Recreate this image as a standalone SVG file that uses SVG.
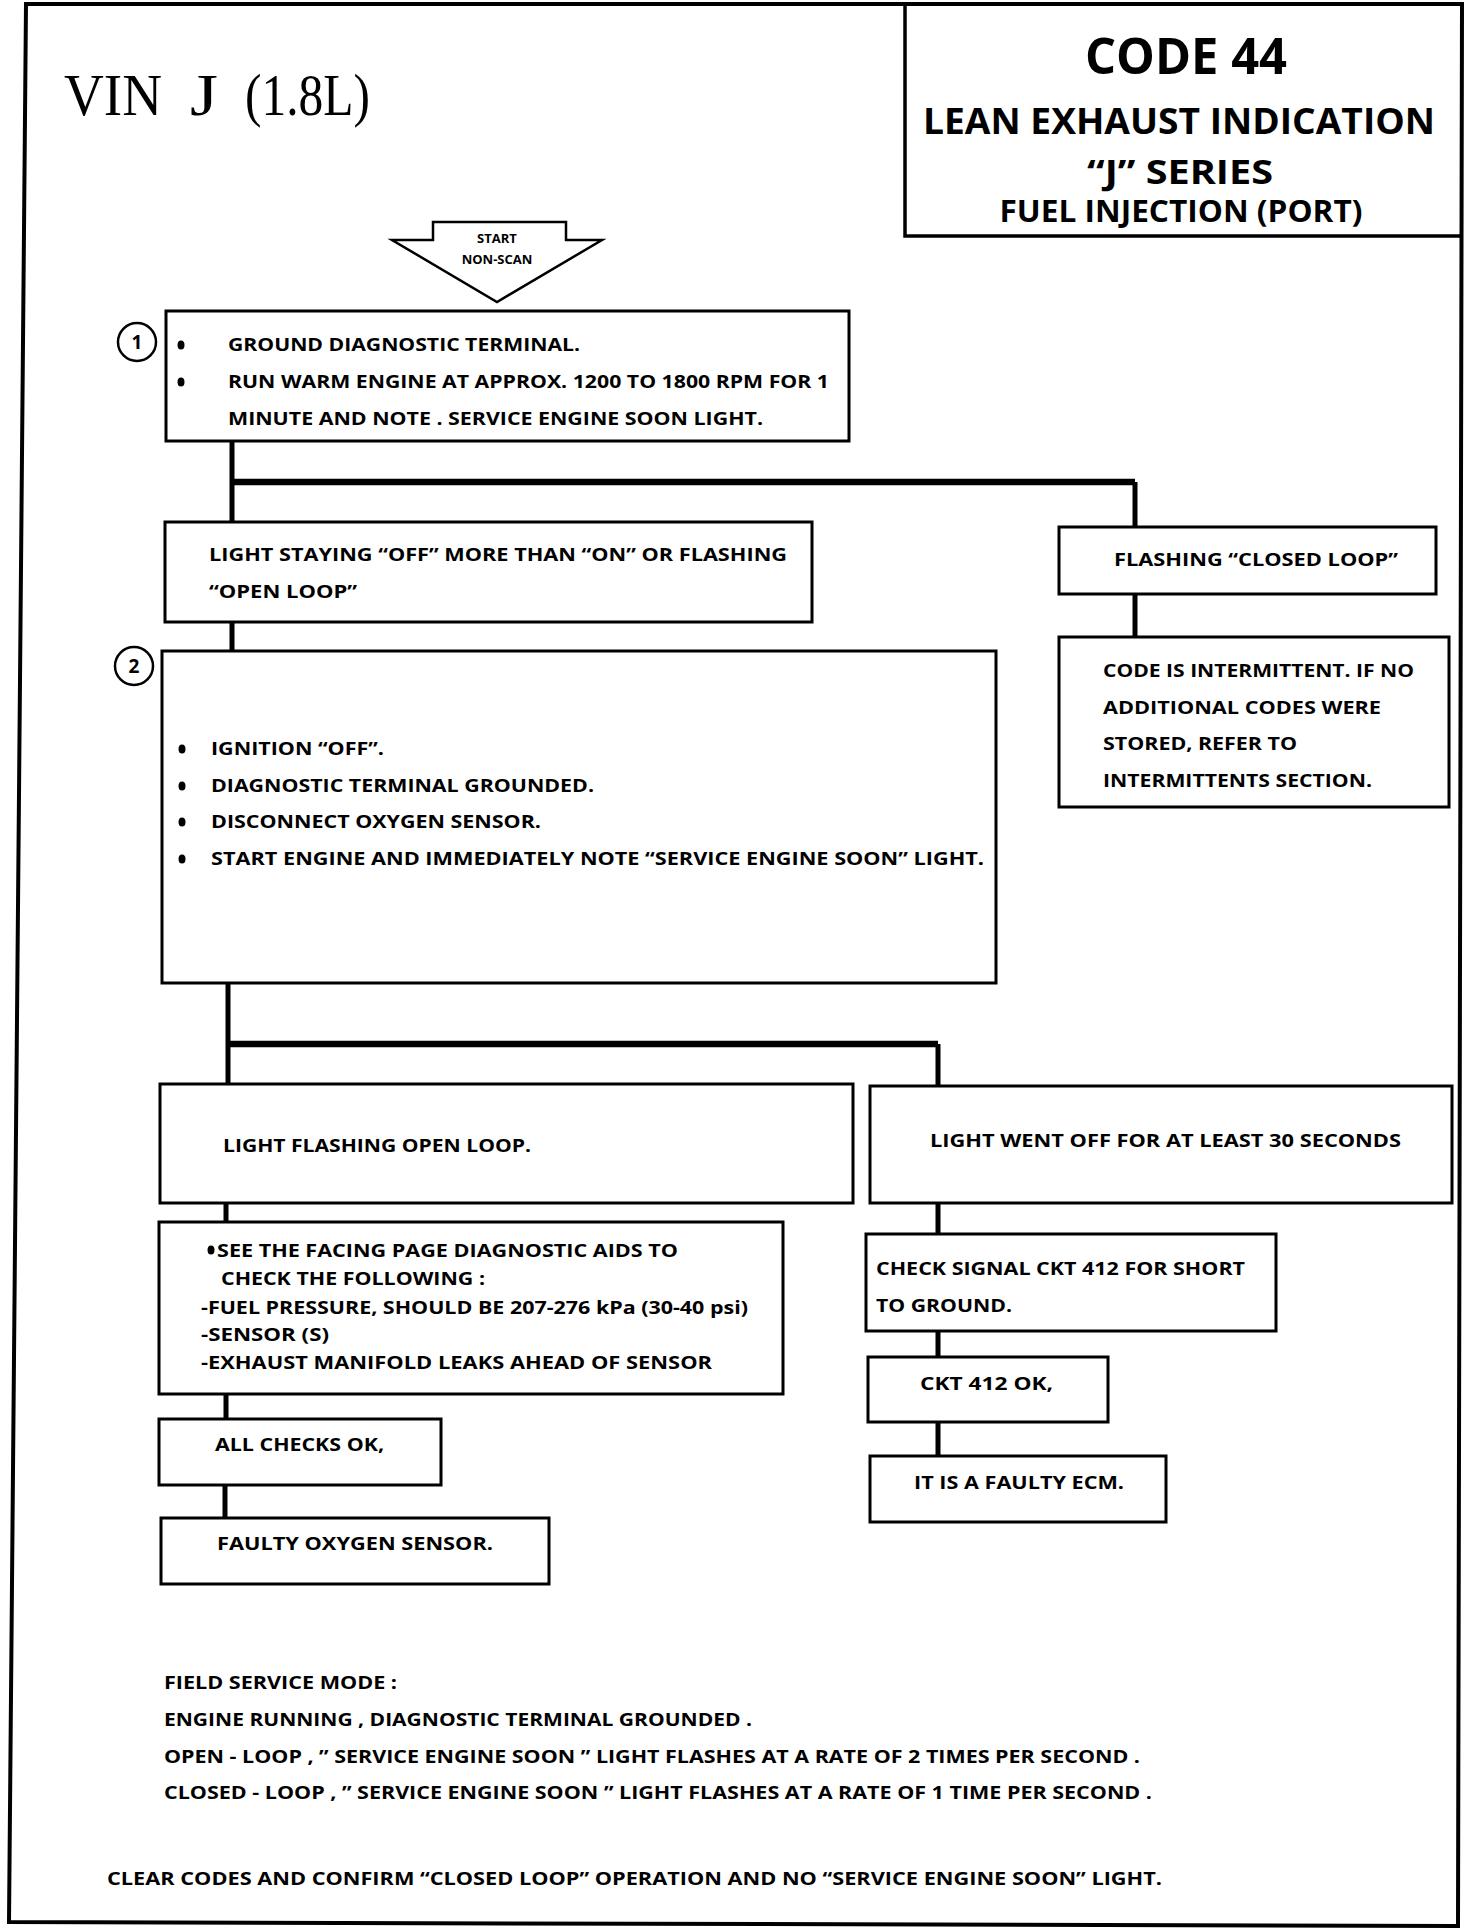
<svg xmlns="http://www.w3.org/2000/svg" width="1472" height="1932" viewBox="0 0 1472 1932">
<style>
.t{font-family:"Open Sans","Liberation Sans",sans-serif;font-weight:700;font-size:17.5px;fill:#000}
.tt{font-family:"Open Sans","Liberation Sans",sans-serif;font-weight:700;fill:#000;text-anchor:middle}
.box{fill:#fff;stroke:#000;stroke-width:3}
.cv{stroke:#000;stroke-width:5;fill:none}
.ch{stroke:#000;stroke-width:6.5;fill:none}
.num{fill:#fff;stroke:#000;stroke-width:2.5}
</style>
<rect x="0" y="0" width="1472" height="1932" fill="#fff"/>
<polygon points="26,4 1462,4 1458,1926 9,1922" fill="none" stroke="#000" stroke-width="4"/>
<g id="title">
<polyline points="905,6 905,236 1461,236" fill="none" stroke="#000" stroke-width="3.5"/>
<text class="tt" x="1186" y="74" font-size="50" textLength="202" lengthAdjust="spacingAndGlyphs">CODE 44</text>
<text class="tt" x="1179" y="134" font-size="35" textLength="512" lengthAdjust="spacingAndGlyphs">LEAN EXHAUST INDICATION</text>
<text class="tt" x="1180" y="184" font-size="34" textLength="186" lengthAdjust="spacingAndGlyphs">“J” SERIES</text>
<text class="tt" x="1181" y="222" font-size="30" textLength="363" lengthAdjust="spacingAndGlyphs">FUEL INJECTION (PORT)</text>
</g>
<g id="vin">
<text font-family="Liberation Serif, serif" font-size="60" fill="#000" y="115"><tspan x="64" textLength="98" lengthAdjust="spacingAndGlyphs">VIN</tspan><tspan> </tspan><tspan x="190" textLength="28" lengthAdjust="spacingAndGlyphs">J</tspan><tspan> </tspan><tspan x="245" textLength="125" lengthAdjust="spacingAndGlyphs">(1.8L)</tspan></text>
</g>
<g id="connectors">
<path class="cv" d="M232 441V522"/>
<path class="ch" d="M232 482H1135"/>
<path class="cv" d="M1135 482V527"/>
<path class="cv" d="M1135 594V637"/>
<path class="cv" d="M232 622V651"/>
<path class="cv" d="M228 983V1084"/>
<path class="ch" d="M228 1044H938"/>
<path class="cv" d="M938 1044V1086"/>
<path class="cv" d="M226 1203V1222"/>
<path class="cv" d="M938 1203V1234"/>
<path class="cv" d="M938 1331V1357"/>
<path class="cv" d="M938 1422V1456"/>
<path class="cv" d="M226 1394V1419"/>
<path class="cv" d="M225 1485V1518"/>
</g>
<g id="start">
<polygon points="433,222 566,222 566,240 602,240 497,302 392,240 433,240" fill="#fff" stroke="#000" stroke-width="2.5"/>
<text class="tt" x="497" y="243" font-size="13">START</text>
<text class="tt" x="497" y="264" font-size="13">NON-SCAN</text>
</g>
<g id="step1">
<rect class="box" x="166" y="311" width="683" height="130"/>
<ellipse class="num" cx="137" cy="342" rx="19" ry="19"/>
<text class="tt" x="137" y="349" font-size="19">1</text>
<ellipse cx="181" cy="345" rx="3.5" ry="4.5"/>
<ellipse cx="181" cy="382" rx="3.5" ry="4.5"/>
<text class="t" x="228" y="351" textLength="352" lengthAdjust="spacingAndGlyphs">GROUND DIAGNOSTIC TERMINAL.</text>
<text class="t" x="228" y="388" textLength="601" lengthAdjust="spacingAndGlyphs">RUN WARM ENGINE AT APPROX. 1200 TO 1800 RPM FOR 1</text>
<text class="t" x="228" y="425" textLength="535" lengthAdjust="spacingAndGlyphs">MINUTE AND NOTE .  SERVICE ENGINE SOON LIGHT.</text>
</g>
<g id="lightStaying">
<rect class="box" x="165" y="522" width="647" height="100"/>
<text class="t" x="209" y="561" textLength="578" lengthAdjust="spacingAndGlyphs">LIGHT STAYING “OFF” MORE THAN “ON” OR FLASHING</text>
<text class="t" x="209" y="598" textLength="148" lengthAdjust="spacingAndGlyphs">“OPEN LOOP”</text>
</g>
<g id="flashingClosed">
<rect class="box" x="1059" y="527" width="377" height="67"/>
<text class="t" x="1114" y="566" textLength="284" lengthAdjust="spacingAndGlyphs">FLASHING “CLOSED LOOP”</text>
</g>
<g id="intermittent">
<rect class="box" x="1059" y="637" width="390" height="170"/>
<text class="t" x="1103" y="677" textLength="311" lengthAdjust="spacingAndGlyphs">CODE IS INTERMITTENT. IF NO</text>
<text class="t" x="1103" y="714" textLength="278" lengthAdjust="spacingAndGlyphs">ADDITIONAL CODES WERE</text>
<text class="t" x="1103" y="750" textLength="194" lengthAdjust="spacingAndGlyphs">STORED, REFER TO</text>
<text class="t" x="1103" y="787" textLength="269" lengthAdjust="spacingAndGlyphs">INTERMITTENTS SECTION.</text>
</g>
<g id="step2">
<rect class="box" x="162" y="651" width="834" height="332"/>
<ellipse class="num" cx="134" cy="666" rx="19" ry="19"/>
<text class="tt" x="134" y="673" font-size="19">2</text>
<ellipse cx="182" cy="749" rx="3.5" ry="4.5"/>
<ellipse cx="182" cy="786" rx="3.5" ry="4.5"/>
<ellipse cx="182" cy="822" rx="3.5" ry="4.5"/>
<ellipse cx="182" cy="859" rx="3.5" ry="4.5"/>
<text class="t" x="211" y="755" textLength="173" lengthAdjust="spacingAndGlyphs">IGNITION “OFF”.</text>
<text class="t" x="211" y="792" textLength="383" lengthAdjust="spacingAndGlyphs">DIAGNOSTIC TERMINAL GROUNDED.</text>
<text class="t" x="211" y="828" textLength="330" lengthAdjust="spacingAndGlyphs">DISCONNECT OXYGEN SENSOR.</text>
<text class="t" x="211" y="865" textLength="773" lengthAdjust="spacingAndGlyphs">START ENGINE AND IMMEDIATELY NOTE  “SERVICE ENGINE SOON” LIGHT.</text>
</g>
<g id="flashingOpen">
<rect class="box" x="160" y="1084" width="693" height="119"/>
<text class="t" x="223" y="1152" textLength="308" lengthAdjust="spacingAndGlyphs">LIGHT FLASHING OPEN LOOP.</text>
</g>
<g id="wentOff">
<rect class="box" x="870" y="1086" width="582" height="117"/>
<text class="t" x="930" y="1147" textLength="471" lengthAdjust="spacingAndGlyphs">LIGHT WENT OFF FOR  AT LEAST 30 SECONDS</text>
</g>
<g id="facingPage">
<rect class="box" x="159" y="1222" width="624" height="172"/>
<ellipse cx="211" cy="1250" rx="3.5" ry="4.5"/>
<text class="t" x="217" y="1257" textLength="461" lengthAdjust="spacingAndGlyphs">SEE THE FACING PAGE DIAGNOSTIC AIDS TO</text>
<text class="t" x="221" y="1285" textLength="264" lengthAdjust="spacingAndGlyphs">CHECK THE FOLLOWING :</text>
<text class="t" x="201" y="1314" textLength="547" lengthAdjust="spacingAndGlyphs">-FUEL PRESSURE, SHOULD BE 207-276 kPa (30-40 psi)</text>
<text class="t" x="201" y="1341" textLength="128" lengthAdjust="spacingAndGlyphs">-SENSOR (S)</text>
<text class="t" x="201" y="1369" textLength="511" lengthAdjust="spacingAndGlyphs">-EXHAUST MANIFOLD LEAKS AHEAD OF SENSOR</text>
</g>
<g id="checkSignal">
<rect class="box" x="866" y="1234" width="410" height="97"/>
<text class="t" x="876" y="1275" textLength="369" lengthAdjust="spacingAndGlyphs">CHECK SIGNAL CKT 412 FOR SHORT</text>
<text class="t" x="876" y="1312" textLength="136" lengthAdjust="spacingAndGlyphs">TO GROUND.</text>
</g>
<g id="cktOk">
<rect class="box" x="868" y="1357" width="240" height="65"/>
<text class="t" x="920" y="1390" textLength="133" lengthAdjust="spacingAndGlyphs">CKT 412  OK,</text>
</g>
<g id="faultyEcm">
<rect class="box" x="870" y="1456" width="296" height="66"/>
<text class="t" x="914" y="1489" textLength="210" lengthAdjust="spacingAndGlyphs">IT IS A FAULTY ECM.</text>
</g>
<g id="allChecks">
<rect class="box" x="159" y="1419" width="282" height="66"/>
<text class="t" x="215" y="1451" textLength="169" lengthAdjust="spacingAndGlyphs">ALL CHECKS OK,</text>
</g>
<g id="faultyO2">
<rect class="box" x="161" y="1518" width="388" height="66"/>
<text class="t" x="217" y="1550" textLength="276" lengthAdjust="spacingAndGlyphs">FAULTY OXYGEN SENSOR.</text>
</g>
<g id="notes">
<text class="t" x="164" y="1689" font-size="18" textLength="233" lengthAdjust="spacingAndGlyphs">FIELD SERVICE MODE :</text>
<text class="t" x="164" y="1726" font-size="18" textLength="588" lengthAdjust="spacingAndGlyphs">ENGINE RUNNING , DIAGNOSTIC TERMINAL GROUNDED .</text>
<text class="t" x="164" y="1763" font-size="18" textLength="976" lengthAdjust="spacingAndGlyphs">OPEN - LOOP , ” SERVICE ENGINE SOON ” LIGHT FLASHES AT A RATE OF 2 TIMES PER SECOND .</text>
<text class="t" x="164" y="1799" font-size="18" textLength="988" lengthAdjust="spacingAndGlyphs">CLOSED - LOOP , ” SERVICE ENGINE SOON ” LIGHT FLASHES AT A RATE OF 1 TIME PER SECOND .</text>
<text class="t" x="107" y="1885" font-size="18" textLength="1055" lengthAdjust="spacingAndGlyphs">CLEAR CODES AND CONFIRM “CLOSED LOOP”  OPERATION AND NO “SERVICE ENGINE SOON” LIGHT.</text>
</g>
</svg>
